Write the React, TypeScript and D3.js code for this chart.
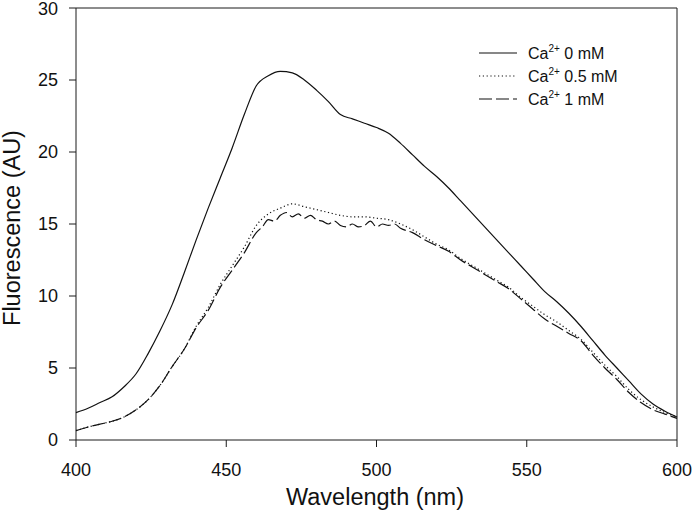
import React from "react";
import * as d3 from "d3";

const wavelengths = [400,404,408,412,416,420,424,428,432,436,440,444,448,452,456,460,464,468,472,476,480,484,488,492,496,500,504,508,512,516,520,524,528,532,536,540,544,548,552,556,560,564,568,572,576,580,584,588,592,596,600];

const ca0 = [1.9,2.2,2.6,3.0,3.7,4.6,6.0,7.6,9.4,11.6,13.9,16.1,18.2,20.3,22.6,24.6,25.3,25.6,25.5,25.0,24.3,23.5,22.6,22.3,22.0,21.7,21.3,20.6,19.8,19.0,18.3,17.5,16.6,15.7,14.8,13.9,13.0,12.1,11.2,10.3,9.6,8.8,7.9,6.9,5.9,5.0,4.1,3.2,2.5,2.0,1.6];

const ca05 = [0.65,0.9,1.1,1.3,1.6,2.1,2.8,3.8,5.1,6.3,7.9,9.2,10.8,12.1,13.4,14.9,15.7,16.1,16.4,16.2,16.0,15.8,15.6,15.5,15.5,15.4,15.3,15.0,14.6,14.1,13.6,13.2,12.6,12.1,11.6,11.1,10.6,9.9,9.3,8.7,8.2,7.6,7.0,6.1,5.2,4.4,3.5,2.8,2.3,1.9,1.6];

const wavelengths1 = [400,404,408,412,416,420,424,428,432,436,440,444,448,452,456,460,462,464,466,468,470,472,474,476,478,480,482,484,486,488,490,492,494,496,498,500,502,504,506,508,512,516,520,524,528,532,536,540,544,548,552,556,560,564,568,572,576,580,584,588,592,596,600];
const ca1 = [0.65,0.9,1.1,1.3,1.6,2.1,2.8,3.8,5.1,6.3,7.8,9.0,10.6,11.8,13.0,14.4,14.8,15.3,15.2,15.6,15.8,15.5,15.7,15.4,15.6,15.3,15.2,15.0,15.2,14.9,14.8,15.0,14.8,14.9,15.2,14.8,15.0,14.9,15.0,14.7,14.4,13.9,13.5,13.1,12.5,12.0,11.5,11.0,10.5,9.8,9.1,8.4,7.9,7.4,6.9,5.9,5.0,4.2,3.3,2.6,2.1,1.8,1.5];

const xTicks = [400,450,500,550,600];
const yTicks = [0,5,10,15,20,25,30];

const series = [
  { label: "0 mM", xs: wavelengths, ys: ca0, dash: "none" },
  { label: "0.5 mM", xs: wavelengths, ys: ca05, dash: "1.2 2.6" },
  { label: "1 mM", xs: wavelengths1, ys: ca1, dash: "13 4" },
];

export default function App() {
  const W = 693, H = 514;
  const left = 76, right = 677, top = 8, bottom = 440;
  const x = d3.scaleLinear().domain([400, 600]).range([left, right]);
  const y = d3.scaleLinear().domain([0, 30]).range([bottom, top]);
  const font = "Liberation Sans, Arial, sans-serif";
  const col = "#1a1a1a";

  return (
    <svg width={W} height={H} style={{ position: "absolute", left: 0, top: 0, background: "#fff" }} fontFamily={font}>
      <line x1={left} x2={right} y1={top} y2={top} stroke={col} strokeWidth={1} />
      <line x1={right} x2={right} y1={top} y2={bottom} stroke={col} strokeWidth={1} />
      <line x1={left} x2={left} y1={top} y2={bottom} stroke={col} strokeWidth={1} />
      <line x1={left} x2={right} y1={bottom} y2={bottom} stroke={col} strokeWidth={1} />
      {yTicks.map((t) => (
        <g key={"y" + t}>
          <line x1={left - 7} x2={left} y1={y(t)} y2={y(t)} stroke={col} />
          <text x={left - 18} y={y(t)} dy={t === 30 ? "0.4em" : "0.36em"} textAnchor="end" fontSize={18} fill="#111">{t}</text>
        </g>
      ))}
      {xTicks.map((t) => (
        <g key={"x" + t}>
          <line x1={x(t)} x2={x(t)} y1={bottom} y2={bottom + 7} stroke={col} />
          <text x={x(t)} y={bottom + 36} textAnchor="middle" fontSize={18} fill="#111">{t}</text>
        </g>
      ))}
      <text x={375} y={505} textAnchor="middle" fontSize={23.5} fill="#111">Wavelength (nm)</text>
      <text transform={`translate(${20},${228}) rotate(-90)`} textAnchor="middle" fontSize={23.5} fill="#111">Fluorescence (AU)</text>
      {series.map((s) => {
        const pts: [number, number][] = s.xs.map((w, i) => [w, s.ys[i]]);
        const line = d3.line<[number, number]>().x((d) => x(d[0])).y((d) => y(d[1])).curve(d3.curveMonotoneX);
        return (
          <path key={s.label} d={line(pts) || ""} fill="none" stroke="#111" strokeWidth={1.2} strokeDasharray={s.dash} />
        );
      })}
      {series.map((s, i) => {
        const ly = 53 + i * 23;
        return (
          <g key={"lg" + i}>
            <line x1={479} x2={517} y1={ly} y2={ly} stroke="#111" strokeWidth={1.2} strokeDasharray={s.dash} />
            <text x={528} y={ly + 6} fontSize={16} fill="#111">
              Ca<tspan fontSize={10} dy={-7}>2+</tspan><tspan dy={7}> {s.label}</tspan>
            </text>
          </g>
        );
      })}
    </svg>
  );
}
